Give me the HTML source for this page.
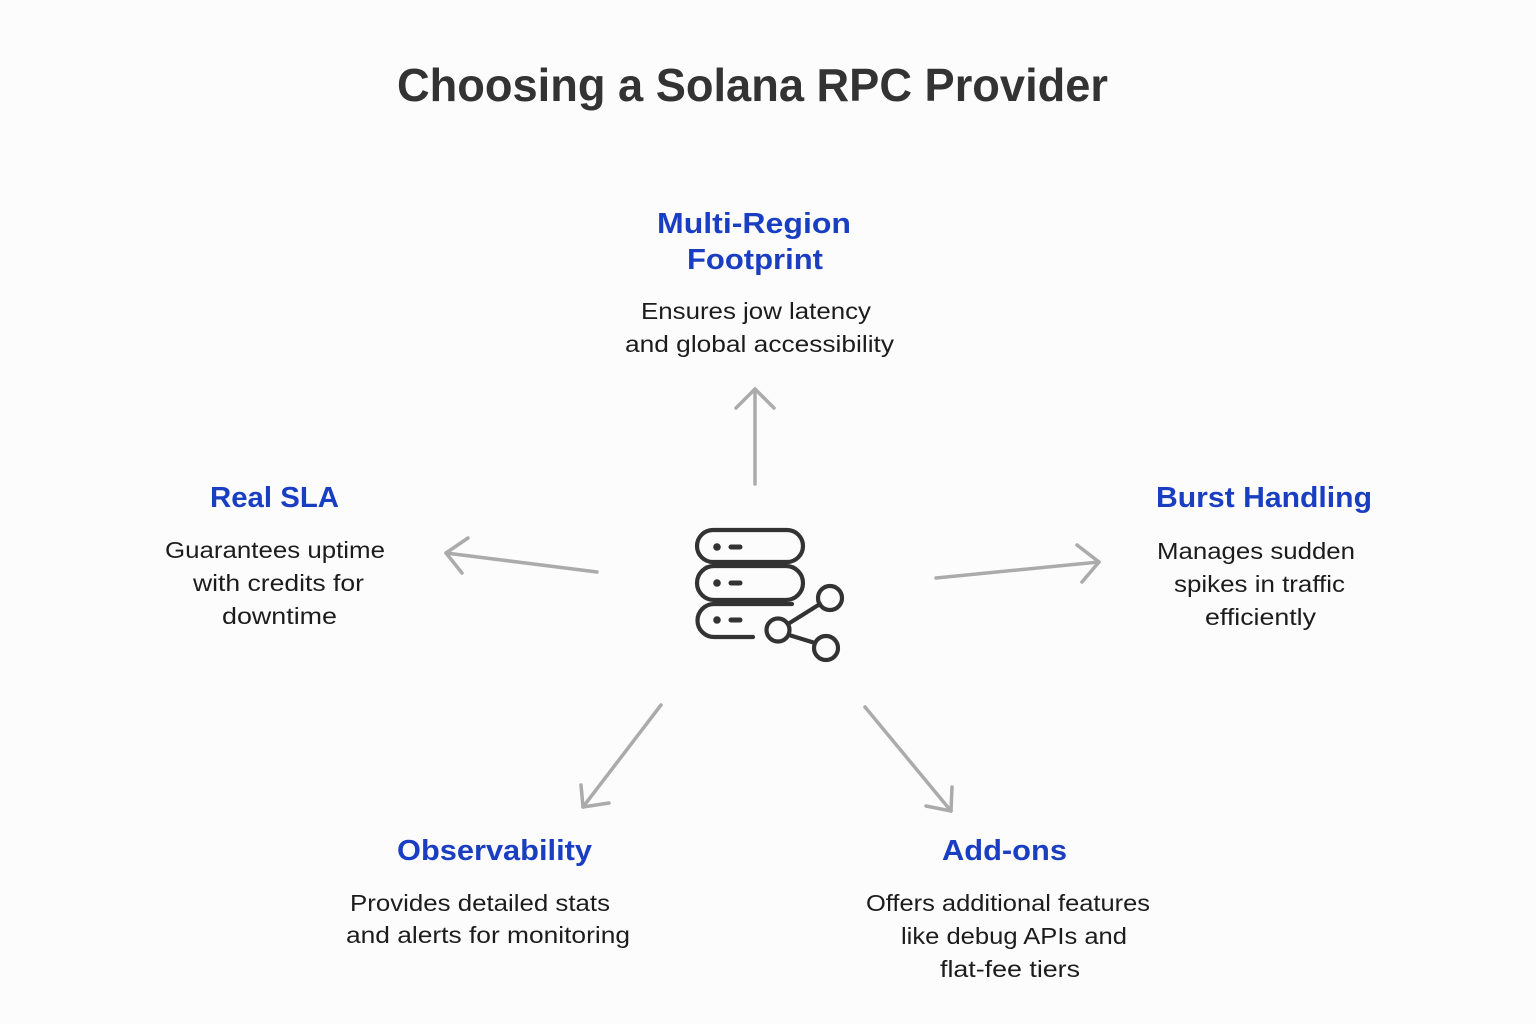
<!DOCTYPE html>
<html>
<head>
<meta charset="utf-8">
<style>
  html, body { margin: 0; padding: 0; background: #fcfcfc; }
  svg { display: block; }
  .t { font-family: "Liberation Sans", Arial, sans-serif; }
  .h { font-weight: bold; font-size: 29px; fill: #1a3ec2; }
  .d { font-size: 23px; fill: #1c1c1c; }
</style>
</head>
<body>
<svg width="1536" height="1024" viewBox="0 0 1536 1024" xmlns="http://www.w3.org/2000/svg">
  <rect x="0" y="0" width="1536" height="1024" fill="#fcfcfc"/>

  <!-- Title -->
  <text class="t" x="397" y="101" font-size="46" font-weight="bold" fill="#333333" textLength="711" lengthAdjust="spacingAndGlyphs">Choosing a Solana RPC Provider</text>

  <!-- Multi-Region Footprint -->
  <text class="t h" x="657" y="233" textLength="194" lengthAdjust="spacingAndGlyphs">Multi-Region</text>
  <text class="t h" x="687" y="269" textLength="136" lengthAdjust="spacingAndGlyphs">Footprint</text>
  <text class="t d" x="641" y="319" textLength="230" lengthAdjust="spacingAndGlyphs">Ensures jow latency</text>
  <text class="t d" x="625" y="352" textLength="269" lengthAdjust="spacingAndGlyphs">and global accessibility</text>

  <!-- Real SLA -->
  <text class="t h" x="210" y="507" textLength="129" lengthAdjust="spacingAndGlyphs">Real SLA</text>
  <text class="t d" x="165" y="558" textLength="220" lengthAdjust="spacingAndGlyphs">Guarantees uptime</text>
  <text class="t d" x="193" y="591" textLength="171" lengthAdjust="spacingAndGlyphs">with credits for</text>
  <text class="t d" x="222" y="624" textLength="115" lengthAdjust="spacingAndGlyphs">downtime</text>

  <!-- Burst Handling -->
  <text class="t h" x="1156" y="507" textLength="216" lengthAdjust="spacingAndGlyphs">Burst Handling</text>
  <text class="t d" x="1157" y="559" textLength="198" lengthAdjust="spacingAndGlyphs">Manages sudden</text>
  <text class="t d" x="1174" y="592" textLength="171" lengthAdjust="spacingAndGlyphs">spikes in traffic</text>
  <text class="t d" x="1205" y="625" textLength="111" lengthAdjust="spacingAndGlyphs">efficiently</text>

  <!-- Observability -->
  <text class="t h" x="397" y="860" textLength="195" lengthAdjust="spacingAndGlyphs">Observability</text>
  <text class="t d" x="350" y="911" textLength="260" lengthAdjust="spacingAndGlyphs">Provides detailed stats</text>
  <text class="t d" x="346" y="943" textLength="284" lengthAdjust="spacingAndGlyphs">and alerts for monitoring</text>

  <!-- Add-ons -->
  <text class="t h" x="942" y="860" textLength="125" lengthAdjust="spacingAndGlyphs">Add-ons</text>
  <text class="t d" x="866" y="911" textLength="284" lengthAdjust="spacingAndGlyphs">Offers additional features</text>
  <text class="t d" x="901" y="944" textLength="226" lengthAdjust="spacingAndGlyphs">like debug APIs and</text>
  <text class="t d" x="940" y="977" textLength="140" lengthAdjust="spacingAndGlyphs">flat-fee tiers</text>

  <!-- Arrows -->
  <g stroke="#ababab" stroke-width="3.5" stroke-linecap="round" stroke-linejoin="round" fill="none">
    <!-- up -->
    <line x1="755" y1="484" x2="755" y2="389"/>
    <polyline points="736,408 755,389 774,408"/>
    <!-- left -->
    <line x1="597" y1="572" x2="446" y2="553"/>
    <polyline points="468,538 446,553 462,573"/>
    <!-- right -->
    <line x1="936" y1="578" x2="1099" y2="562"/>
    <polyline points="1077,545 1099,562 1082,582"/>
    <!-- lower-left -->
    <line x1="661" y1="705" x2="583" y2="807"/>
    <polyline points="581,785 583,807 609,803"/>
    <!-- lower-right -->
    <line x1="865" y1="707" x2="951" y2="811"/>
    <polyline points="952,787 951,811 926,806"/>
  </g>

  <!-- Center icon -->
  <g stroke="#333333" stroke-width="4.2" fill="none" stroke-linecap="round" stroke-linejoin="round">
    <rect x="697" y="530" width="106" height="32" rx="16"/>
    <rect x="697" y="566" width="106" height="34" rx="17"/>
    <path d="M 792 604 L 714 604 A 16.5 16.5 0 0 0 714 637 L 753 637"/>
    <line x1="731" y1="547" x2="740" y2="547" stroke-width="5"/>
    <line x1="731" y1="583" x2="740" y2="583" stroke-width="5"/>
    <line x1="731" y1="620" x2="740" y2="620" stroke-width="5"/>
    <circle cx="778" cy="630" r="11.5"/>
    <circle cx="830" cy="598" r="12"/>
    <circle cx="826" cy="648" r="12"/>
    <line x1="788" y1="624" x2="820" y2="604"/>
    <line x1="789" y1="635" x2="815" y2="643"/>
  </g>
  <g fill="#333333">
    <circle cx="717" cy="547" r="3.8"/>
    <circle cx="717" cy="583" r="3.8"/>
    <circle cx="717" cy="620" r="3.8"/>
  </g>
</svg>
</body>
</html>
